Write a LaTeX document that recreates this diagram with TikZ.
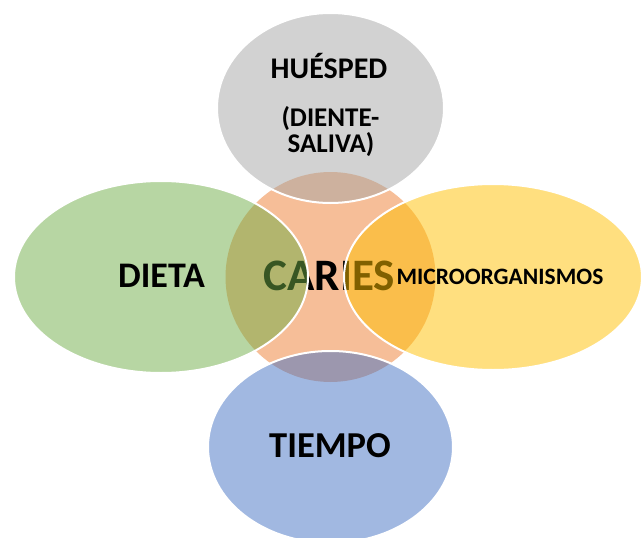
\documentclass[tikz,border=0pt]{standalone}
\usepackage{fontspec}
\setmainfont{Carlito}
\usetikzlibrary{shapes.geometric}
\definecolor{cgray}{HTML}{A5A5A5}
\definecolor{cgreen}{HTML}{70AD47}
\definecolor{cgold}{HTML}{FFC000}
\definecolor{cblue}{HTML}{4472C4}
\definecolor{corange}{HTML}{ED7D31}
\begin{document}
\begin{tikzpicture}[x=1pt,y=-1pt,
  lobe/.style={ellipse, inner sep=0pt, draw=white, line width=2pt, fill opacity=0.5},
  lbl/.style={font=\bfseries, text=black, anchor=base, inner sep=0pt}]
\useasboundingbox (0,0) rectangle (643,538);
\clip (0,0) rectangle (643,538);
\node[circle, minimum size=210pt, inner sep=0pt, fill=corange, fill opacity=0.5] (core) at (330.5,277) {};
\node[anchor=base, inner sep=0pt, font=\bfseries\fontsize{45}{45}\selectfont] (caries) at (329.5,290) {CARIES};
\node[lobe, fill=cgray, minimum width=227pt, minimum height=190pt] (host) at (330.5,108) {};
\node[lobe, fill=cgreen, minimum width=294pt, minimum height=192pt] (diet) at (161,277) {};
\node[lobe, fill=cgold, minimum width=298pt, minimum height=186pt] (micro) at (493,277) {};
\node[lobe, fill=cblue, minimum width=245pt, minimum height=192pt] (time) at (330.5,447) {};
\node[lbl, font=\bfseries\fontsize{30}{30}\selectfont] (hostA) at (329,78) {HUÉSPED};
\node[lbl, font=\bfseries\fontsize{27}{27}\selectfont] (hostB) at (330.5,126) {(DIENTE-};
\node[lbl, font=\bfseries\fontsize{27}{27}\selectfont] (hostC) at (331,152) {SALIVA)};
\node[lbl, font=\bfseries\fontsize{36}{36}\selectfont] (dietL) at (161.5,287) {DIETA};
\node[lbl, font=\bfseries\fontsize{23.5}{23.5}\selectfont] (microL) at (500,284.5) {MICROORGANISMOS};
\node[lbl, font=\bfseries\fontsize{36.5}{36.5}\selectfont] (timeL) at (330,457) {TIEMPO};
\end{tikzpicture}
\end{document}
